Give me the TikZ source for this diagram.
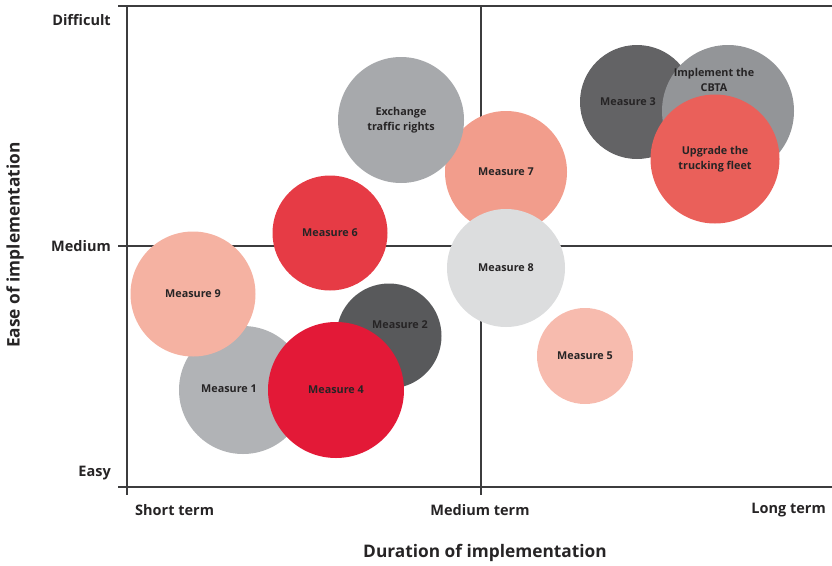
\documentclass[tikz,border=0pt]{standalone}
\usepackage{fontspec}
\setmainfont{Open Sans}
\usepackage{tikz}

\definecolor{axisgray}{HTML}{3C3C3E}
\definecolor{inkgray}{HTML}{262425}
\definecolor{pinkA}{HTML}{F5B2A2}
\definecolor{pinkB}{HTML}{F29D8C}
\definecolor{pinkC}{HTML}{F7BBAE}
\definecolor{redA}{HTML}{E63B45}
\definecolor{redB}{HTML}{E31937}
\definecolor{redC}{HTML}{EA605A}
\definecolor{greyA}{HTML}{B1B3B6}
\definecolor{greyB}{HTML}{A7A9AC}
\definecolor{greyC}{HTML}{DCDDDE}
\definecolor{greyD}{HTML}{939598}
\definecolor{darkA}{HTML}{58595B}
\definecolor{darkB}{HTML}{636365}

\begin{document}
\begin{tikzpicture}[x=1pt,y=-1pt]
        \tikzstyle{every node}=[inner sep=0pt, text=inkgray, font=\bfseries]
        \tikzstyle{bubble}=[circle, draw=none]
        \tikzstyle{tag}=[font=\bfseries\fontsize{10.8}{14.5}\selectfont, align=center]
        \tikzstyle{axistag}=[font=\bfseries\fontsize{14.5}{16}\selectfont]
        \tikzstyle{axistitle}=[font=\bfseries\fontsize{17.3}{19}\selectfont]
        \tikzstyle{axisline}=[draw=axisgray, line width=1.3pt]
        \useasboundingbox (0,0) rectangle (832,565);
        % frame and quadrant lines
        \coordinate (tl) at (118,6);
        \coordinate (tr) at (832,6);
        \coordinate (ml) at (118,246);
        \coordinate (mr) at (832,246);
        \coordinate (bl) at (118,487);
        \coordinate (br) at (832,487);
        \coordinate (vtop) at (127,6);
        \coordinate (vbot) at (127,495);
        \coordinate (ctop) at (481,6);
        \coordinate (cbot) at (481,495);
        \draw[axisline] (tl) -- (tr);
        \draw[axisline] (ml) -- (mr);
        \draw[axisline] (bl) -- (br);
        \draw[axisline] (vtop) -- (vbot);
        \draw[axisline] (ctop) -- (cbot);
        % axis texts
        \node[axistag, anchor=east] (difficult) at (111,20) {Difficult};
        \node[axistag, anchor=east] (medium) at (111,246) {Medium};
        \node[axistag, anchor=east] (easy) at (111,473) {Easy};
        \node[axistag, anchor=west] (short) at (135,510) {Short term};
        \node[axistag] (mid) at (480,510) {Medium term};
        \node[axistag, anchor=east] (long) at (826,510) {Long term};
        \node[axistitle] (xlabel) at (485,553) {Duration of implementation};
        \node[axistitle, rotate=90] (ylabel) at (15,245) {Ease of implementation};
        % bubbles
        \node[bubble, fill=greyA, minimum size=128pt] (m1) at (243,390) {};
        \node[tag] (m1t) at (229,389) {Measure 1};
        \node[bubble, fill=pinkA, minimum size=125pt] (m9) at (193,294) {};
        \node[tag] (m9t) at (m9) {Measure 9};
        \node[bubble, fill=darkA, minimum size=105pt] (m2) at (389,336) {};
        \node[tag] (m2t) at (400,325) {Measure 2};
        \node[bubble, fill=redB, minimum size=136pt] (m4) at (336,390) {};
        \node[tag] (m4t) at (m4) {Measure 4};
        \node[bubble, fill=redA, minimum size=115pt] (m6) at (330,233) {};
        \node[tag] (m6t) at (m6) {Measure 6};
        \node[bubble, fill=pinkB, minimum size=122pt] (m7) at (506,172) {};
        \node[tag] (m7t) at (m7) {Measure 7};
        \node[bubble, fill=greyB, minimum size=126pt] (ex) at (401,120) {};
        \node[tag] (ext) at (ex) {Exchange\\traffic rights};
        \node[bubble, fill=greyC, minimum size=118pt] (m8) at (506,268) {};
        \node[tag] (m8t) at (m8) {Measure 8};
        \node[bubble, fill=pinkC, minimum size=96pt] (m5) at (585,356) {};
        \node[tag] (m5t) at (m5) {Measure 5};
        \node[bubble, fill=darkB, minimum size=114pt] (m3) at (637,102) {};
        \node[tag] (m3t) at (628,102) {Measure 3};
        \node[bubble, fill=greyD, minimum size=132pt] (cbta) at (728,111) {};
        \node[tag] (cbtat) at (714,80) {Implement the\\CBTA};
        \node[bubble, fill=redC, minimum size=129pt] (up) at (715,159) {};
        \node[tag] (upt) at (up) {Upgrade the\\trucking fleet};
    \end{tikzpicture}
\end{document}
